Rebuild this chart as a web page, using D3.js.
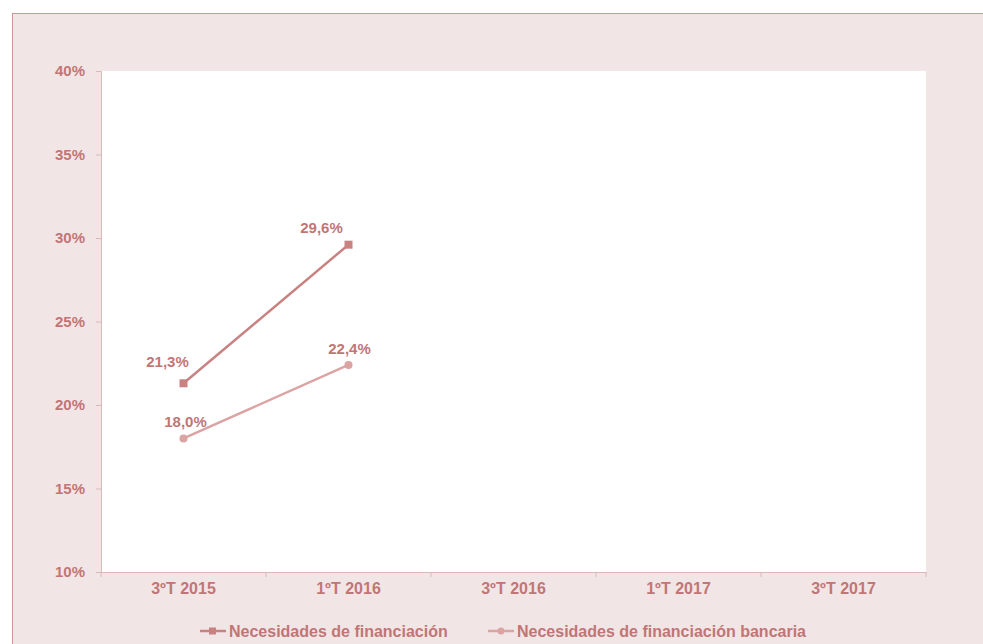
<!DOCTYPE html>
<html>
<head>
<meta charset="utf-8">
<script src="https://cdn.jsdelivr.net/npm/d3@7"></script>
<style>
  body { margin: 0; background: #fff; }
  svg text { font-family: "Liberation Sans", Arial, sans-serif; font-weight: bold; }
</style>
</head>
<body>
<div id="container"></div>
<script>
const width = 983
const height = 644

// datos
const categories = ["3ºT 2015", "1ºT 2016", "3ºT 2016", "1ºT 2017", "3ºT 2017"]
const serieNames = ["Necesidades de financiación", "Necesidades de financiación bancaria"]
const necesidades = [21.3, 29.6]
const necesidadesBanc = [18.0, 22.4]
const yTicks = [10, 15, 20, 25, 30, 35, 40]

const txtColor = "#c07676"
const colors = ["#c98282", "#dca3a3"]
// desplazamiento de etiquetas [dx, dy] por serie y punto
const labelShift = [[[-16, -16], [-27, -12]], [[2, -11], [1, -11]]]

const svg = d3.select("#container")
  .append("svg")
  .attr("width", width)
  .attr("height", height)

// panel de fondo
svg.append("rect")
  .attr("x", 12.5).attr("y", 13.5)
  .attr("width", width).attr("height", height)
  .attr("fill", "#f2e5e6")
  .attr("stroke", "#d09696")

const plot = {left: 101, top: 71, right: 926, bottom: 572}

svg.append("rect")
  .attr("x", plot.left).attr("y", plot.top)
  .attr("width", plot.right - plot.left).attr("height", plot.bottom - plot.top)
  .attr("fill", "#fff")

const x = d3.scaleBand().domain(categories).range([plot.left, plot.right])
const y = d3.scaleLinear().domain([10, 40]).range([plot.bottom, plot.top])

// eje y
const yAxis = svg.append("g")
  .attr("transform", `translate(${plot.left},0)`)
  .call(d3.axisLeft(y).tickValues(yTicks).tickFormat(d => d + "%").tickSize(5).tickPadding(11))
yAxis.select(".domain").attr("stroke", "#dbb9b9")
yAxis.selectAll(".tick line").attr("stroke", "#dbb9b9")
yAxis.selectAll("text").attr("fill", txtColor).style("font-size", "15px")

// eje x
const xAxis = svg.append("g")
  .attr("transform", `translate(0,${plot.bottom})`)
  .call(d3.axisBottom(x).tickSize(0).tickPadding(11))
xAxis.select(".domain").attr("stroke", "#dbb9b9")
xAxis.selectAll("text").attr("fill", txtColor).style("font-size", "16px")
// marcas entre categorias
const bounds = categories.map(c => x(c)).concat([plot.right])
svg.append("g").selectAll("line")
  .data(bounds)
  .join("line")
  .attr("x1", d => d).attr("x2", d => d)
  .attr("y1", plot.bottom).attr("y2", plot.bottom + 5)
  .attr("stroke", "#dbb9b9")

const line = d3.line()
  .x((d, i) => x(categories[i]) + x.bandwidth() / 2)
  .y(d => y(d))

const series = [necesidades, necesidadesBanc]

series.forEach((s, k) => {
  svg.append("path")
    .attr("d", line(s))
    .attr("fill", "none")
    .attr("stroke", colors[k])
    .attr("stroke-width", 2.5)

  const pts = svg.append("g").selectAll("g")
    .data(s)
    .join("g")
    .attr("transform", (d, i) => `translate(${x(categories[i]) + x.bandwidth() / 2},${y(d)})`)
  if (k === 0) {
    pts.append("rect").attr("x", -4).attr("y", -4).attr("width", 8).attr("height", 8).attr("fill", colors[k])
  } else {
    pts.append("circle").attr("r", 4).attr("fill", colors[k])
  }
  pts.append("text")
    .attr("x", (d, i) => labelShift[k][i][0])
    .attr("y", (d, i) => labelShift[k][i][1])
    .attr("text-anchor", "middle")
    .attr("fill", txtColor)
    .style("font-size", "15px")
    .text(d => d.toFixed(1).replace(".", ",") + "%")
})

// leyenda
const legX = [200, 488]
serieNames.forEach((n, k) => {
  const g = svg.append("g").attr("transform", `translate(${legX[k]},631)`)
  g.append("line").attr("x1", 0).attr("x2", 26).attr("stroke", colors[k]).attr("stroke-width", 2.5)
  if (k === 0) g.append("rect").attr("x", 9).attr("y", -3.5).attr("width", 7).attr("height", 7).attr("fill", colors[k])
  else g.append("circle").attr("cx", 13).attr("r", 3.5).attr("fill", colors[k])
  g.append("text").attr("x", 29).attr("y", 6).attr("fill", txtColor).style("font-size", "16px").text(n)
})
</script>
</body>
</html>
